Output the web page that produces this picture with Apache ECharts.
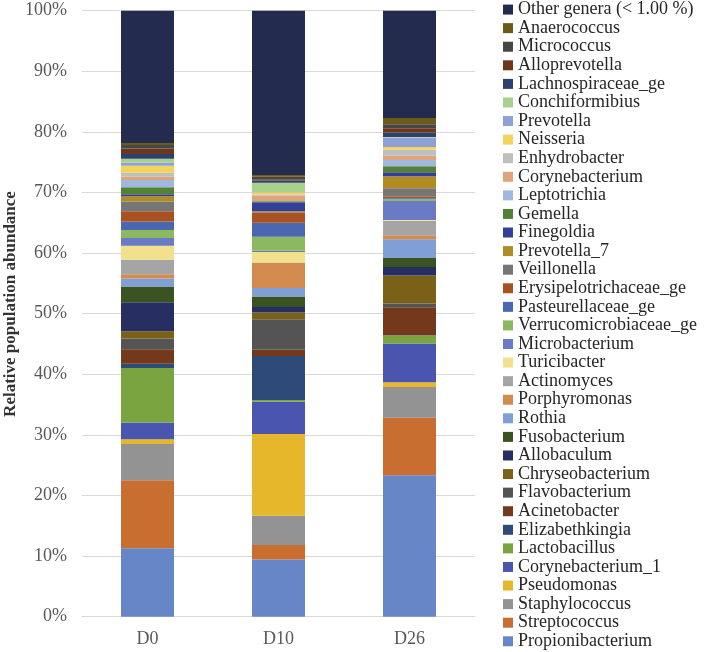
<!DOCTYPE html>
<html>
<head>
<meta charset="utf-8">
<script src="https://cdn.jsdelivr.net/npm/echarts@6/dist/echarts.min.js"></script>
<style>
html,body{margin:0;padding:0;background:#fff;}
#chart{width:705px;height:652px;}
</style>
</head>
<body>
<div id="chart"></div>
<script>
// Categories (x axis)
const days = ['D0', 'D10', 'D26'];

// Genera, stacked from bottom to top
const genera = [
  'Propionibacterium', 'Streptococcus', 'Staphylococcus', 'Pseudomonas', 'Corynebacterium_1',
  'Lactobacillus', 'Elizabethkingia', 'Acinetobacter', 'Flavobacterium', 'Chryseobacterium',
  'Allobaculum', 'Fusobacterium', 'Rothia', 'Porphyromonas', 'Actinomyces',
  'Turicibacter', 'Microbacterium', 'Verrucomicrobiaceae_ge', 'Pasteurellaceae_ge', 'Erysipelotrichaceae_ge',
  'Veillonella', 'Prevotella_7', 'Finegoldia', 'Gemella', 'Leptotrichia',
  'Corynebacterium', 'Enhydrobacter', 'Neisseria', 'Prevotella', 'Conchiformibius',
  'Lachnospiraceae_ge', 'Alloprevotella', 'Micrococcus', 'Anaerococcus', 'Other genera (< 1.00 %)'
];

// Relative abundance (%) per genus, same order as genera
const d0 = [
  11.3, 11.2, 6.0, 0.8, 2.75,
  9.0, 0.7, 2.4, 1.75, 1.2,
  4.8, 2.6, 1.3, 0.7, 2.4,
  2.3, 1.3, 1.3, 1.4, 1.7,
  1.6, 0.9, 0.3, 1.15, 1.2,
  0.55, 0.65, 1.15, 0.5, 0.65,
  0.8, 0.9, 0.6, 0.3, 21.85
];
const d10 = [
  9.45, 2.4, 4.8, 13.5, 5.3,
  0.3, 7.25, 1.05, 5.05, 1.1,
  0.9, 1.75, 1.4, 4.1, 0.1,
  1.75, 0.2, 2.3, 2.3, 1.7,
  0.1, 0.1, 1.5, 0.15, 0.05,
  0.9, 0.15, 0.4, 0.05, 1.5,
  0.4, 0.2, 0.4, 0.3, 27.1
];
const d26 = [
  23.35, 9.5, 5.05, 0.8, 6.4,
  1.3, 0.05, 4.6, 0.65, 4.6,
  1.4, 1.5, 3.1, 0.65, 2.4,
  0.1, 3.15, 0.3, 0.15, 0.25,
  1.4, 2.0, 0.65, 1.0, 1.0,
  0.7, 1.05, 0.4, 1.55, 0.1,
  0.75, 0.7, 0.65, 1.05, 17.7
];

// Axis title
const yTitle = 'Relative population abundance';

// Colours, same order as genera
const colors = [
  '#6686C8', '#C86E30', '#939393', '#E6B72B', '#4A55B0',
  '#78A540', '#2E4A78', '#73391A', '#545454', '#7A6117',
  '#262E62', '#3B5323', '#7F9FD6', '#D38B50', '#A5A5A5',
  '#F3E08C', '#6A7AC4', '#8CB860', '#4A67B0', '#A9521F',
  '#767676', '#B08C22', '#333F99', '#548235', '#A0B8E0',
  '#E0A47A', '#BFBFBF', '#F2D45C', '#8FA0D8', '#A9D18E',
  '#2B4170', '#70361A', '#474747', '#6B5A18', '#232B4F'
];

const FONT = "'Liberation Serif', 'Times New Roman', serif";
const chart = echarts.init(document.getElementById('chart'), null, {renderer: 'canvas'});

const series = genera.map((name, i) => ({
  name: name,
  type: 'bar',
  stack: 'total',
  barWidth: 53,
  itemStyle: {color: colors[i]},
  emphasis: {disabled: true},
  data: [d0[i], d10[i], d26[i]]
}));

chart.setOption({
  animation: false,
  textStyle: {fontFamily: FONT},
  grid: {left: 82, right: 230, top: 10.7, bottom: 35.3, containLabel: false, outerBoundsMode: 'none'},
  graphic: [{
    type: 'text',
    x: 11,
    y: 304,
    rotation: Math.PI / 2,
    silent: true,
    style: {
      text: yTitle,
      font: "bold 17px 'Liberation Serif', 'Times New Roman', serif",
      fill: '#333333',
      textAlign: 'center',
      textVerticalAlign: 'middle'
    }
  }],
  legend: {
    type: 'plain',
    orient: 'vertical',
    left: 503,
    top: 0,
    height: 700,
    padding: 0,
    icon: 'rect',
    itemWidth: 10,
    itemHeight: 10,
    itemGap: -0.55,
    data: genera.slice().reverse(),
    textStyle: {fontFamily: FONT, fontSize: 18, lineHeight: 19.13, color: '#262626'},
    selectedMode: false
  },
  xAxis: {
    type: 'category',
    data: days,
    axisLine: {lineStyle: {color: '#d9d9d9', width: 1}},
    axisTick: {show: false},
    axisLabel: {fontFamily: FONT, fontSize: 18, color: '#595959', margin: 14}
  },
  yAxis: {
    type: 'value',
    min: 0,
    max: 100,
    interval: 10,
    axisLine: {show: false},
    axisTick: {show: false},
    axisLabel: {formatter: '{value}%', fontFamily: FONT, fontSize: 18, color: '#595959', margin: 15},
    splitLine: {lineStyle: {color: '#d9d9d9', width: 1}}
  },
  series: series
});
</script>
</body>
</html>
